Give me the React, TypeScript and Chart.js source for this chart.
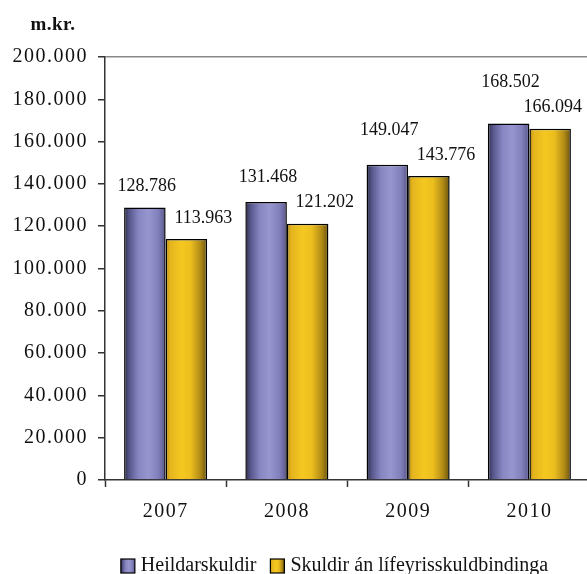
import React, { useEffect, useRef } from "react";
import { Chart, registerables } from "chart.js";

Chart.register(...registerables);

const categories = ["2007", "2008", "2009", "2010"];
const heildarskuldir = [128786, 131468, 149047, 168502];
const skuldirAnLifeyris = [113963, 121202, 143776, 166094];
const seriesNames = ["Heildarskuldir", "Skuldir án lífeyrisskuldbindinga"];
const yMin = 0;
const yMax = 200000;
const yStep = 20000;
const unitLabel = "m.kr.";

const FONT = "'Liberation Serif', 'Times New Roman', serif";
const CAT_PCT = 0.685;

function fmt(v: number): string {
  const s = Math.round(v).toString();
  return s.replace(/\B(?=(\d{3})+(?!\d))/g, ".");
}

const blueStops: [number, string][] = [
  [0, "#2c2c46"],
  [0.12, "#55558a"],
  [0.35, "#8886c2"],
  [0.58, "#9896ce"],
  [0.82, "#8280bc"],
  [1, "#58568a"],
];
const yellowStops: [number, string][] = [
  [0, "#b08812"],
  [0.1, "#e4b41e"],
  [0.38, "#f4c820"],
  [0.6, "#ecbe1e"],
  [0.84, "#b08a16"],
  [1, "#6a520e"],
];

function makeGrad(ctx: CanvasRenderingContext2D, x0: number, x1: number, stops: [number, string][]) {
  const g = ctx.createLinearGradient(x0, 0, x1, 0);
  stops.forEach(([o, c]) => g.addColorStop(o, c));
  return g;
}

function barGradient(c: any, dsIdx: number, stops: [number, string][], fallback: string) {
  const chart = c.chart;
  const x = chart.scales && chart.scales.x;
  if (!x || c.dataIndex == null || !chart.chartArea || !isFinite(x.left)) return fallback;
  const center = x.getPixelForValue(c.dataIndex);
  const catW = (x.right - x.left) / categories.length;
  const group = catW * CAT_PCT;
  const bw = group / 2;
  const left = center - group / 2 + dsIdx * bw;
  if (!isFinite(left)) return fallback;
  return makeGrad(chart.ctx, left, left + bw, stops);
}

const spacingPlugin = {
  id: "spacing",
  beforeDraw(chart: any) {
    chart.ctx.letterSpacing = "1.5px";
  },
  afterDraw(chart: any) {
    chart.ctx.letterSpacing = "0px";
  },
};

const labelsPlugin = {
  id: "valueLabels",
  afterDatasetsDraw(chart: any) {
    const ctx = chart.ctx;
    ctx.save();
    ctx.letterSpacing = "0px";
    ctx.font = `18px ${FONT}`;
    ctx.fillStyle = "#111";
    ctx.textAlign = "center";
    ctx.textBaseline = "middle";
    const m0 = chart.getDatasetMeta(0);
    const m1 = chart.getDatasetMeta(1);
    const d0 = chart.data.datasets[0].data;
    const d1 = chart.data.datasets[1].data;
    m1.data.forEach((el1: any, i: number) => {
      const el0 = m0.data[i];
      const t1 = fmt(d1[i]);
      const t0 = fmt(d0[i]);
      const w1 = ctx.measureText(t1).width;
      const y1 = el1.y - 21;
      let x1 = el1.x + 17;
      if (x1 + w1 / 2 > chart.width - 8) x1 = chart.width - 8 - w1 / 2;
      const y0 = Math.min(el0.y - 21, y1 - 25);
      ctx.fillText(t1, x1, y1);
      ctx.fillText(t0, el0.x + 2, y0);
    });
    ctx.restore();
  },
};

const extrasPlugin = {
  id: "extras",
  afterDraw(chart: any) {
    const ctx = chart.ctx;
    ctx.save();
    ctx.letterSpacing = "0.5px";
    ctx.font = `bold 19px ${FONT}`;
    ctx.fillStyle = "#111";
    ctx.textAlign = "center";
    ctx.textBaseline = "middle";
    ctx.fillText(unitLabel, 53, 25);
    ctx.letterSpacing = "0px";
    ctx.font = `20px ${FONT}`;
    ctx.textAlign = "left";
    const box = 14;
    const gapBox = 6;
    const gapItem = 14;
    const widths = seriesNames.map((n) => ctx.measureText(n).width);
    const total = widths.reduce((a, w) => a + box + gapBox + w, 0) + gapItem * (seriesNames.length - 1);
    let x = 334.5 - total / 2;
    const yc = 566;
    const stops = [blueStops, yellowStops];
    seriesNames.forEach((n, i) => {
      ctx.fillStyle = makeGrad(ctx, x, x + box, stops[i]);
      ctx.fillRect(x, yc - box / 2, box, box);
      ctx.strokeStyle = "#000";
      ctx.lineWidth = 1.2;
      ctx.strokeRect(x, yc - box / 2, box, box);
      ctx.fillStyle = "#111";
      ctx.fillText(n, x + box + gapBox, yc);
      x += box + gapBox + widths[i] + gapItem;
    });
    ctx.restore();
  },
};

export default function App() {
  const ref = useRef<HTMLCanvasElement | null>(null);
  useEffect(() => {
    if (!ref.current) return;
    const chart = new Chart(ref.current, {
      type: "bar",
      data: {
        labels: categories,
        datasets: [
          {
            label: seriesNames[0],
            data: heildarskuldir,
            backgroundColor: (c: any) => barGradient(c, 0, blueStops, "#8886c2"),
            borderColor: "#000",
            borderWidth: 1.5,
            categoryPercentage: CAT_PCT,
            barPercentage: 1,
          },
          {
            label: seriesNames[1],
            data: skuldirAnLifeyris,
            backgroundColor: (c: any) => barGradient(c, 1, yellowStops, "#f4c820"),
            borderColor: "#000",
            borderWidth: 1.5,
            categoryPercentage: CAT_PCT,
            barPercentage: 1,
          },
        ],
      },
      options: {
        responsive: false,
        animation: false,
        devicePixelRatio: 1,
        layout: { padding: { top: 57, left: 0, right: 0, bottom: 0 } },
        plugins: {
          legend: { display: false },
          tooltip: { enabled: false },
          title: { display: false },
        },
        scales: {
          x: {
            grid: {
              drawOnChartArea: false,
              drawTicks: true,
              tickLength: 7,
              tickColor: "#333",
              tickWidth: 1.5,
              offset: true,
            },
            border: { color: "#333", width: 1.5 },
            ticks: {
              color: "#111",
              padding: 13,
              font: { family: FONT, size: 20 },
            },
            afterFit: (s: any) => {
              s.height = 94;
            },
          },
          y: {
            min: yMin,
            max: yMax,
            grid: {
              color: (c: any) => (c.tick && c.tick.value === yMax ? "#888" : "rgba(0,0,0,0)"),
              lineWidth: 1.5,
              drawTicks: true,
              tickLength: 7,
              tickColor: "#333",
              tickWidth: 1.5,
            },
            border: { color: "#333", width: 1.5 },
            ticks: {
              stepSize: yStep,
              color: "#111",
              padding: 10,
              font: { family: FONT, size: 20 },
              callback: (v: any) => fmt(Number(v)),
            },
            afterFit: (s: any) => {
              s.width = 105;
            },
          },
        },
      },
      plugins: [spacingPlugin, labelsPlugin, extrasPlugin],
    });
    return () => chart.destroy();
  }, []);
  return (
    <div
      style={{
        position: "absolute",
        left: 0,
        top: 0,
        width: 587,
        height: 574,
        overflow: "hidden",
        background: "#fff",
      }}
    >
      <canvas ref={ref} width={590} height={574} style={{ display: "block", width: 590, height: 574 }} />
    </div>
  );
}
